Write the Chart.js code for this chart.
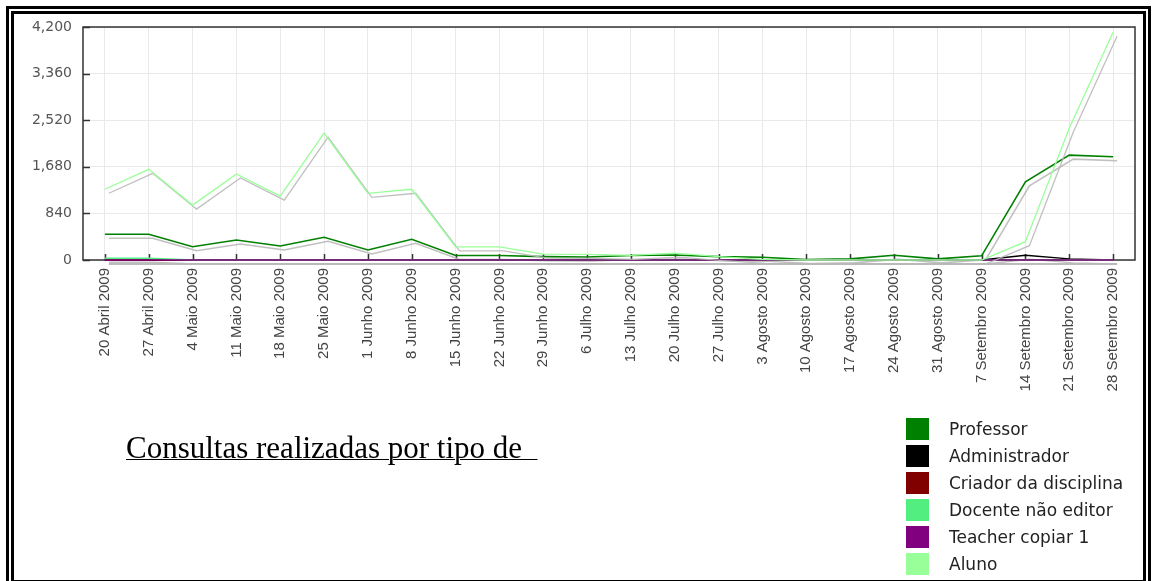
<!DOCTYPE html>
<html>
<head>
<meta charset="utf-8">
<title>Consultas realizadas por tipo de utilizador</title>
<script src="https://cdn.jsdelivr.net/npm/chart.js@4.4.1/dist/chart.umd.min.js"></script>
<style>
    html, body {
        margin: 0;
        padding: 0;
        background: #fff;
        overflow: hidden;
    }
    #frame {
        position: absolute;
        left: 6px;
        top: 6px;
        width: 1129px;
        height: 566px;
        border: 8px double #000;
    }
    #myChart {
        position: absolute;
        left: 0;
        top: 0;
    }
    #caption {
        position: absolute;
        left: 126px;
        top: 432px;
        font-family: "Liberation Serif", "Times New Roman", serif;
        font-size: 31px;
        line-height: 31px;
        white-space: pre;
        text-decoration: underline;
        text-decoration-thickness: 1px;
        color: #000;
    }
    #legend .item {
        position: absolute;
        left: 906px;
        height: 22px;
    }
    #legend .box {
        position: absolute;
        left: 0;
        top: 0;
        width: 23px;
        height: 22px;
    }
    #legend .text {
        position: absolute;
        left: 43px;
        top: 0;
        line-height: 22px;
        font-family: "DejaVu Sans", sans-serif;
        font-size: 17px;
        color: #222;
        white-space: nowrap;
    }
</style>
</head>
<body>
<div id="frame"></div>
<canvas id="myChart" width="1152" height="581"></canvas>
<div id="caption">Consultas realizadas por tipo de  </div>
<div id="legend"></div>

<script>
// semanas
var weeks = ['20 Abril 2009', '27 Abril 2009', '4 Maio 2009', '11 Maio 2009', '18 Maio 2009', '25 Maio 2009',
    '1 Junho 2009', '8 Junho 2009', '15 Junho 2009', '22 Junho 2009', '29 Junho 2009', '6 Julho 2009',
    '13 Julho 2009', '20 Julho 2009', '27 Julho 2009', '3 Agosto 2009', '10 Agosto 2009', '17 Agosto 2009',
    '24 Agosto 2009', '31 Agosto 2009', '7 Setembro 2009', '14 Setembro 2009', '21 Setembro 2009', '28 Setembro 2009'];

// consultas por tipo de utilizador
var professor = [463, 463, 240, 360, 252, 410, 180, 373, 80, 80, 60, 55, 80, 90, 60, 50, 10, 20, 85, 20, 75, 1410, 1890, 1860];
var administrador = [0, 0, 0, 0, 0, 0, 0, 0, 0, 0, 0, 0, 0, 0, 0, 0, 0, 0, 0, 0, 0, 85, 20, 0];
var criador = [0, 0, 0, 0, 0, 0, 0, 0, 0, 0, 0, 0, 0, 0, 0, 0, 0, 0, 0, 0, 0, 0, 0, 0];
var docente = [30, 30, 0, 0, 0, 0, 0, 0, 0, 0, 0, 0, 0, 0, 0, 0, 0, 0, 0, 0, 0, 0, 0, 0];
var teacher = [0, 0, 0, 0, 0, 0, 0, 0, 0, 0, 0, 0, 0, 0, 0, 0, 0, 0, 0, 0, 0, 0, 0, 0];
var aluno = [1275, 1635, 990, 1550, 1150, 2285, 1200, 1275, 235, 235, 105, 100, 85, 125, 60, 12, 0, 0, 0, 0, 0, 330, 2375, 4105];

var yTicks = [0, 840, 1680, 2520, 3360, 4200];

var seriesNames = ['Professor', 'Administrador', 'Criador da disciplina', 'Docente não editor', 'Teacher copiar 1', 'Aluno'];
var seriesData = [professor, administrador, criador, docente, teacher, aluno];
var seriesColors = ['#008000', '#000000', '#800000', '#52ee80', '#800080', '#99ff99'];
var seriesWidths = [1.6, 1.4, 1.4, 1.6, 1.6, 1.3];

// a ultima serie fica por cima
var datasets = seriesNames.map(function (name, i) {
    return {
        label: name,
        data: seriesData[i],
        borderColor: seriesColors[i],
        backgroundColor: seriesColors[i],
        borderWidth: seriesWidths[i],
        pointRadius: 0,
        tension: 0,
        order: seriesNames.length - i,
        clip: 12
    };
});

// sombra cinzenta por baixo das linhas
var lineShadow = {
    id: 'lineShadow',
    beforeDatasetDraw: function (chart) {
        var ctx = chart.ctx;
        ctx.save();
        ctx.shadowColor = 'rgba(185,185,185,0.9)';
        ctx.shadowBlur = 0;
        ctx.shadowOffsetX = 4;
        ctx.shadowOffsetY = 4;
    },
    afterDatasetDraw: function (chart) {
        chart.ctx.restore();
    }
};

// moldura do grafico e marcas para dentro
var plotFrame = {
    id: 'plotFrame',
    beforeDatasetsDraw: function (chart) {
        var ctx = chart.ctx;
        var a = chart.chartArea;
        var x = chart.scales.x;
        var y = chart.scales.y;
        var i;
        ctx.save();
        ctx.strokeStyle = '#333';
        ctx.lineWidth = 1.5;
        ctx.strokeRect(a.left, a.top, a.right - a.left, a.bottom - a.top);
        ctx.beginPath();
        for (i = 0; i < weeks.length; i++) {
            var px = Math.round(x.getPixelForValue(i)) + 0.5;
            ctx.moveTo(px, a.bottom);
            ctx.lineTo(px, a.bottom - 6);
        }
        for (i = 0; i < yTicks.length; i++) {
            var py = Math.round(y.getPixelForValue(yTicks[i])) + 0.5;
            ctx.moveTo(a.left, py);
            ctx.lineTo(a.left + 7, py);
        }
        ctx.stroke();
        ctx.restore();
    }
};

var ctx = document.getElementById('myChart').getContext('2d');
var chart = new Chart(ctx, {
    type: 'line',
    data: {
        labels: weeks,
        datasets: datasets
    },
    options: {
        responsive: false,
        animation: false,
        devicePixelRatio: 1,
        layout: {
            padding: { left: 0, top: 27, right: 17, bottom: 0 }
        },
        plugins: {
            legend: { display: false },
            tooltip: { enabled: false }
        },
        scales: {
            x: {
                offset: true,
                afterFit: function (scale) { scale.height = 321; },
                grid: { offset: false, color: '#e9e9e9', lineWidth: 1, drawTicks: false },
                border: { display: false },
                ticks: {
                    autoSkip: false,
                    minRotation: 90,
                    maxRotation: 90,
                    padding: 8,
                    color: '#444',
                    font: { family: '"Liberation Sans", Arial, sans-serif', size: 15 }
                }
            },
            y: {
                min: 0,
                max: 4200,
                afterFit: function (scale) { scale.width = 83; },
                afterBuildTicks: function (scale) {
                    scale.ticks = yTicks.map(function (v) { return { value: v }; });
                },
                grid: { color: '#e9e9e9', lineWidth: 1, drawTicks: false },
                border: { display: false },
                ticks: {
                    padding: 11,
                    color: '#555',
                    font: { family: '"DejaVu Sans", sans-serif', size: 14 }
                }
            }
        }
    },
    plugins: [lineShadow, plotFrame]
});

// legenda
var legend = document.getElementById('legend');
seriesNames.forEach(function (name, i) {
    var item = document.createElement('div');
    item.className = 'item';
    item.style.top = (418 + i * 26.9) + 'px';
    item.innerHTML = '<div class="box" style="background:' + seriesColors[i] + '"></div>' +
        '<div class="text">' + name + '</div>';
    legend.appendChild(item);
});
</script>
</body>
</html>
